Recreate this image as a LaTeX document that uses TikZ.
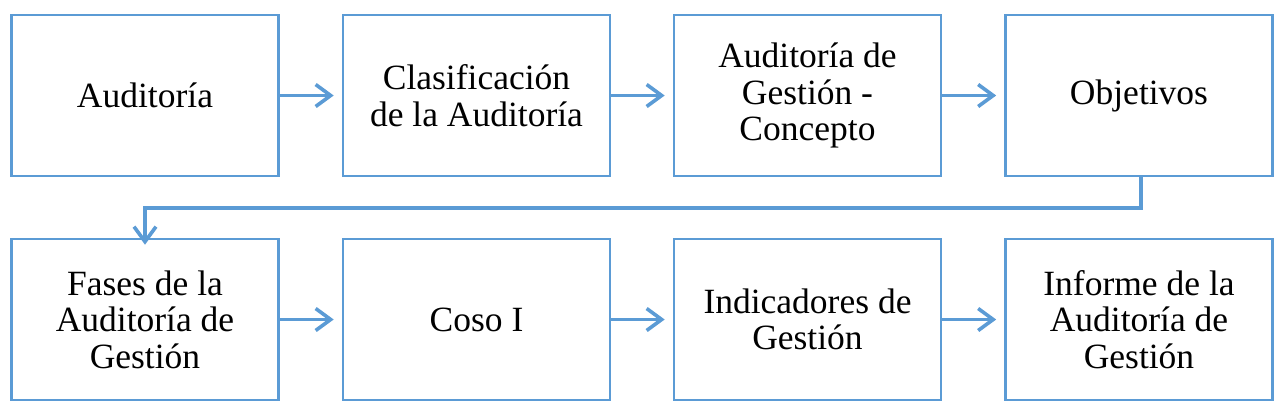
\documentclass[tikz,border=0pt]{standalone}
\usepackage{fontspec}
\setmainfont{Liberation Serif}
\usetikzlibrary{arrows.meta}
\definecolor{accent}{HTML}{5B9BD5}
\begin{document}
\begin{tikzpicture}[x=1pt,y=-1pt,
  box/.style={draw=accent,line width=2.6pt,minimum width=267pt,minimum height=161pt,
    align=center,inner sep=0pt,font=\fontsize{35.5}{36.5}\selectfont},
  link/.style={draw=accent,line width=3.6pt,-{Straight Barb[length=15pt,width=22pt,line width=3.6pt]}}]
\useasboundingbox (0,0) rectangle (1284,408);
\node[box] (a1) at (145,95.5) {Auditoría};
\node[box] (a2) at (476.5,95.5) {Clasificación\\de la Auditoría};
\node[box] (a3) at (807.5,95.5) {Auditoría de\\Gestión -\\Concepto};
\node[box] (a4) at (1139,95.5) {Objetivos};
\node[box] (b1) at (145,319.5) {Fases de la\\Auditoría de\\Gestión};
\node[box] (b2) at (476.5,319.5) {Coso I};
\node[box] (b3) at (807.5,319.5) {Indicadores de\\Gestión};
\node[box] (b4) at (1139,319.5) {Informe de la\\Auditoría de\\Gestión};
\draw[link] (a1.east) -- ([xshift=-8pt]a2.west);
\draw[link] (a2.east) -- ([xshift=-8pt]a3.west);
\draw[link] (a3.east) -- ([xshift=-8pt]a4.west);
\draw[link] (b1.east) -- ([xshift=-8pt]b2.west);
\draw[link] (b2.east) -- ([xshift=-8pt]b3.west);
\draw[link] (b3.east) -- ([xshift=-8pt]b4.west);
\coordinate (m) at (0,208);
\draw[link] ([xshift=2pt]a4.south) |- (m -| b1.north) -- ([yshift=-7pt]b1.north);
\end{tikzpicture}
\end{document}
